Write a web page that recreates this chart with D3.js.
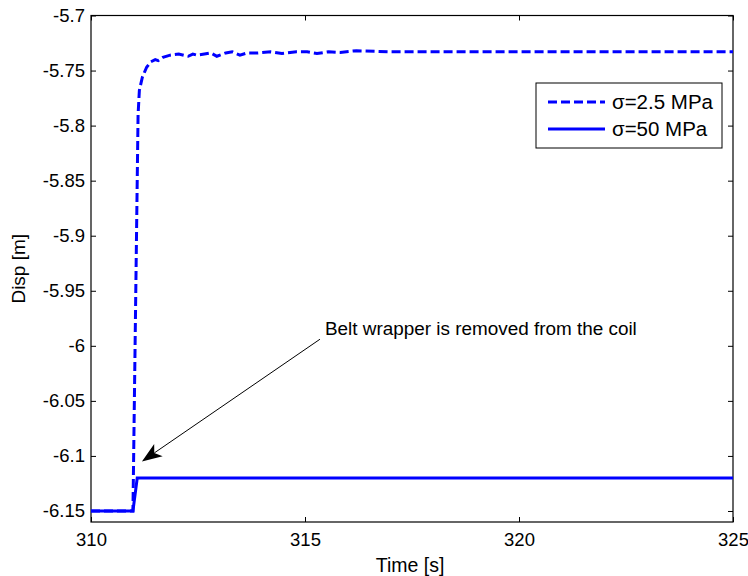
<!DOCTYPE html>
<html>
<head>
<meta charset="utf-8">
<script src="https://cdn.jsdelivr.net/npm/d3@7"></script>
<style>
    body { margin: 0; background: #fff; }
    svg text { font-family: "Liberation Sans", Arial, sans-serif; fill: #000; }
</style>
</head>
<body>
<svg id="chart" width="748" height="576"></svg>
<script>
// series: sigma = 2.5 MPa (dashed)
const timeLow = [310, 310.98, 311.1, 311.13, 311.2, 311.3, 311.4, 311.5, 311.57, 311.68, 311.85,
    312.05, 312.27, 312.38, 312.48, 312.65, 312.8, 312.94, 313.15, 313.3, 313.48, 313.65, 313.9,
    314.2, 314.46, 314.8, 315.05, 315.28, 315.55, 315.82, 316.2, 317, 325];
const dispLow = [-6.15, -6.15, -5.79, -5.768, -5.756, -5.747, -5.742, -5.740, -5.741, -5.738, -5.736,
    -5.735, -5.737, -5.735, -5.736, -5.735, -5.734, -5.737, -5.734, -5.733, -5.736, -5.734, -5.734,
    -5.733, -5.7345, -5.733, -5.733, -5.7345, -5.733, -5.7335, -5.732, -5.733, -5.733];

// series: sigma = 50 MPa (solid)
const timeHigh = [310, 310.98, 311.08, 325];
const dispHigh = [-6.15, -6.15, -6.12, -6.12];

const xTicks = [310, 315, 320, 325];
const yTicks = [-6.15, -6.1, -6.05, -6, -5.95, -5.9, -5.85, -5.8, -5.75, -5.7];
const yTickLabels = ["-6.15", "-6.1", "-6.05", "-6", "-5.95", "-5.9", "-5.85", "-5.8", "-5.75", "-5.7"];
const legendLabels = ["\u03c3=2.5 MPa", "\u03c3=50 MPa"];

const annotation = { text: "Belt wrapper is removed from the coil", tipT: 311.19, tipD: -6.105, fromT: 315.35, fromD: -5.994 };

const svg = d3.select("#chart");
const plotL = 91, plotR = 733, plotT = 15.5, plotB = 522;

const x = d3.scaleLinear().domain([310, 325]).range([plotL, plotR]);
const y = d3.scaleLinear().domain([-6.16, -5.7]).range([plotB, plotT]);

const blue = "#0000ff";

// axes (ticks inside, MATLAB box style)
const gx = svg.append("g")
    .attr("transform", "translate(0," + plotB + ")")
    .call(d3.axisBottom(x).tickValues(xTicks).tickSize(-5).tickPadding(11).tickFormat(d3.format("d")));
const gxTop = svg.append("g")
    .attr("transform", "translate(0," + plotT + ")")
    .call(d3.axisTop(x).tickValues(xTicks).tickSize(-5).tickFormat(""));
const gy = svg.append("g")
    .attr("transform", "translate(" + plotL + ",0)")
    .call(d3.axisLeft(y).tickValues(yTicks).tickSize(-5).tickPadding(6)
        .tickFormat((d, i) => yTickLabels[i]));
const gyRight = svg.append("g")
    .attr("transform", "translate(" + plotR + ",0)")
    .call(d3.axisRight(y).tickValues(yTicks).tickSize(-5).tickFormat(""));

[gx, gxTop, gy, gyRight].forEach(g => {
    g.select(".domain").remove();
    g.selectAll("line").attr("stroke", "#000");
    g.selectAll("text").attr("font-size", 18.5).attr("font-family", "Liberation Sans, Arial, sans-serif").attr("fill", "#000");
});

svg.append("rect")
    .attr("x", plotL).attr("y", plotT)
    .attr("width", plotR - plotL).attr("height", plotB - plotT)
    .attr("fill", "none").attr("stroke", "#000").attr("stroke-width", 1.2);

// lines
const line = d3.line().x(d => x(d[0])).y(d => y(d[1]));

svg.append("path")
    .datum(d3.zip(timeHigh, dispHigh))
    .attr("d", line)
    .attr("fill", "none").attr("stroke", blue).attr("stroke-width", 3);

svg.append("path")
    .datum(d3.zip(timeLow, dispLow))
    .attr("d", line)
    .attr("fill", "none").attr("stroke", blue).attr("stroke-width", 3)
    .attr("stroke-dasharray", "9,4");

// axis labels
svg.append("text")
    .attr("x", 410).attr("y", 572)
    .attr("text-anchor", "middle").attr("font-size", 19.5)
    .text("Time [s]");

svg.append("text")
    .attr("transform", "translate(25," + (plotT + plotB) / 2 + ") rotate(-90)")
    .attr("text-anchor", "middle").attr("font-size", 19)
    .text("Disp [m]");

// legend
const legend = svg.append("g");
legend.append("rect")
    .attr("x", 536).attr("y", 83).attr("width", 186).attr("height", 65)
    .attr("fill", "#fff").attr("stroke", "#000").attr("stroke-width", 1);
legendLabels.forEach((label, i) => {
    const ly = 102 + i * 27;
    legend.append("line")
        .attr("x1", 548).attr("x2", 605).attr("y1", ly).attr("y2", ly)
        .attr("stroke", blue).attr("stroke-width", 3)
        .attr("stroke-dasharray", i === 0 ? "9,4" : null);
    legend.append("text")
        .attr("x", 612).attr("y", ly).attr("dy", "0.36em")
        .attr("font-size", 20.5)
        .text(label);
});

// annotation arrow
const tx = x(annotation.tipT), ty = y(annotation.tipD);
const fx = x(annotation.fromT), fy = y(annotation.fromD);
const len = Math.hypot(fx - tx, fy - ty);
const ux = (fx - tx) / len, uy = (fy - ty) / len;
const nx = -uy, ny = ux;
const headL = 20, headW = 7.5, notch = 15;

svg.append("line")
    .attr("x1", fx).attr("y1", fy)
    .attr("x2", tx + ux * notch).attr("y2", ty + uy * notch)
    .attr("stroke", "#000").attr("stroke-width", 1);

svg.append("path")
    .attr("d", d3.line()([
        [tx, ty],
        [tx + ux * headL + nx * headW, ty + uy * headL + ny * headW],
        [tx + ux * notch, ty + uy * notch],
        [tx + ux * headL - nx * headW, ty + uy * headL - ny * headW]
    ]) + "Z")
    .attr("fill", "#000");

svg.append("text")
    .attr("x", fx + 5).attr("y", 335)
    .attr("font-size", 18.9)
    .text(annotation.text);
</script>
</body>
</html>
